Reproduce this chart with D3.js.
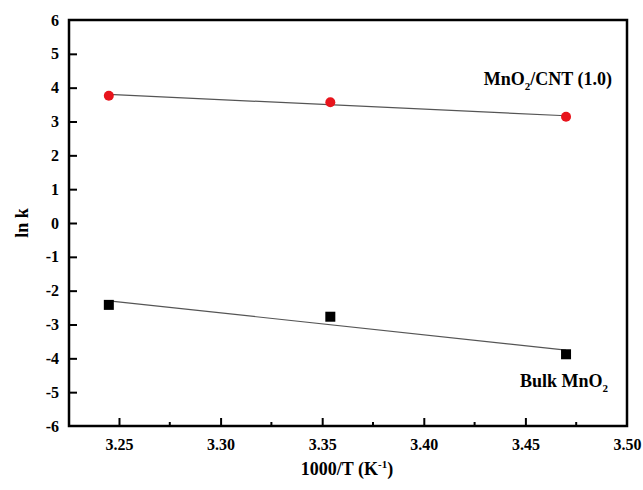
<!DOCTYPE html>
<html><head><meta charset="utf-8">
<script src="https://cdn.jsdelivr.net/npm/d3@7"></script>
<style>body{margin:0;background:#fff}</style>
</head><body>
<svg id="c" width="643" height="490"></svg>
<script>
const xTicks = [3.25, 3.30, 3.35, 3.40, 3.45, 3.50];
const yTicks = [-6,-5,-4,-3,-2,-1,0,1,2,3,4,5,6];
const tempX = [3.245, 3.354, 3.470];
const cntLnK = [3.76, 3.57, 3.14];
const bulkLnK = [-2.42, -2.77, -3.88];
const cntFitX = [3.245, 3.470];
const cntFitY = [3.80, 3.17];
const bulkFitX = [3.245, 3.470];
const bulkFitY = [-2.30, -3.76];

const svg = d3.select("#c");
const L = 69, R = 627, T = 20, B = 426;
const x = d3.scaleLinear().domain([3.2254, 3.50]).range([L, R]);
const y = d3.scaleLinear().domain([-6, 6]).range([B, T]);
const font = "'Liberation Serif', 'Times New Roman', serif";

// frame
svg.append("rect").attr("x", L).attr("y", T).attr("width", R-L).attr("height", B-T)
  .attr("fill", "none").attr("stroke", "#000").attr("stroke-width", 2.5);

// x axis
const xa = svg.append("g").attr("transform", `translate(0,${B})`)
  .call(d3.axisBottom(x).tickValues(xTicks).tickSize(-8).tickPadding(13).tickFormat(d3.format(".2f")));
xa.select(".domain").remove();
xa.selectAll("line").attr("stroke-width", 2);
xa.selectAll("text").attr("font-family", font).attr("font-weight", "bold").attr("font-size", 16).attr("fill", "#000");
xa.selectAll(".tick").filter(d => d === 3.50).select("line").remove();
// minor x ticks
const minorX = [3.275, 3.325, 3.375, 3.425, 3.475];
svg.append("g").selectAll("line").data(minorX).join("line")
  .attr("x1", d => x(d)).attr("x2", d => x(d)).attr("y1", B).attr("y2", B-4)
  .attr("stroke", "#000").attr("stroke-width", 2);

// y axis
const ya = svg.append("g").attr("transform", `translate(${L},0)`)
  .call(d3.axisLeft(y).tickValues(yTicks).tickSize(-8).tickPadding(10).tickFormat(d => String(d)));
ya.select(".domain").remove();
ya.selectAll("line").attr("stroke-width", 2);
ya.selectAll(".tick").filter(d => d === 6 || d === -6).select("line").remove();
ya.selectAll("text").attr("font-family", font).attr("font-weight", "bold").attr("font-size", 16).attr("fill", "#000");

// fit lines
const line = d3.line().x(d => x(d[0])).y(d => y(d[1]));
svg.append("path").datum(d3.zip(cntFitX, cntFitY)).attr("d", line)
  .attr("fill", "none").attr("stroke", "#555").attr("stroke-width", 1.2);
svg.append("path").datum(d3.zip(bulkFitX, bulkFitY)).attr("d", line)
  .attr("fill", "none").attr("stroke", "#555").attr("stroke-width", 1.2);

// points
svg.append("g").selectAll("circle").data(d3.zip(tempX, cntLnK)).join("circle")
  .attr("cx", d => x(d[0])).attr("cy", d => y(d[1])).attr("r", 5).attr("fill", "#e8141c");
svg.append("g").selectAll("rect").data(d3.zip(tempX, bulkLnK)).join("rect")
  .attr("x", d => x(d[0]) - 5).attr("y", d => y(d[1]) - 5).attr("width", 10).attr("height", 10).attr("fill", "#000");

// series labels
const lab1 = svg.append("text").attr("x", 612).attr("y", 85).attr("text-anchor", "end")
  .attr("font-family", font).attr("font-weight", "bold").attr("font-size", 18);
lab1.append("tspan").text("MnO");
lab1.append("tspan").text("2").attr("font-size", 11).attr("dy", 5);
lab1.append("tspan").text("/CNT (1.0)").attr("dy", -5);

const lab2 = svg.append("text").attr("x", 608).attr("y", 387).attr("text-anchor", "end")
  .attr("font-family", font).attr("font-weight", "bold").attr("font-size", 18);
lab2.append("tspan").text("Bulk MnO");
lab2.append("tspan").text("2").attr("font-size", 11).attr("dy", 5);

// axis titles
const xt = svg.append("text").attr("x", 347).attr("y", 475).attr("text-anchor", "middle")
  .attr("font-family", font).attr("font-weight", "bold").attr("font-size", 18);
xt.append("tspan").text("1000/T (K");
xt.append("tspan").text("-1").attr("font-size", 11).attr("dy", -7);
xt.append("tspan").text(")").attr("dy", 7);

svg.append("text").attr("transform", "translate(28,223) rotate(-90)").attr("text-anchor", "middle")
  .attr("font-family", font).attr("font-weight", "bold").attr("font-size", 18).text("ln k");
</script>
</body></html>
